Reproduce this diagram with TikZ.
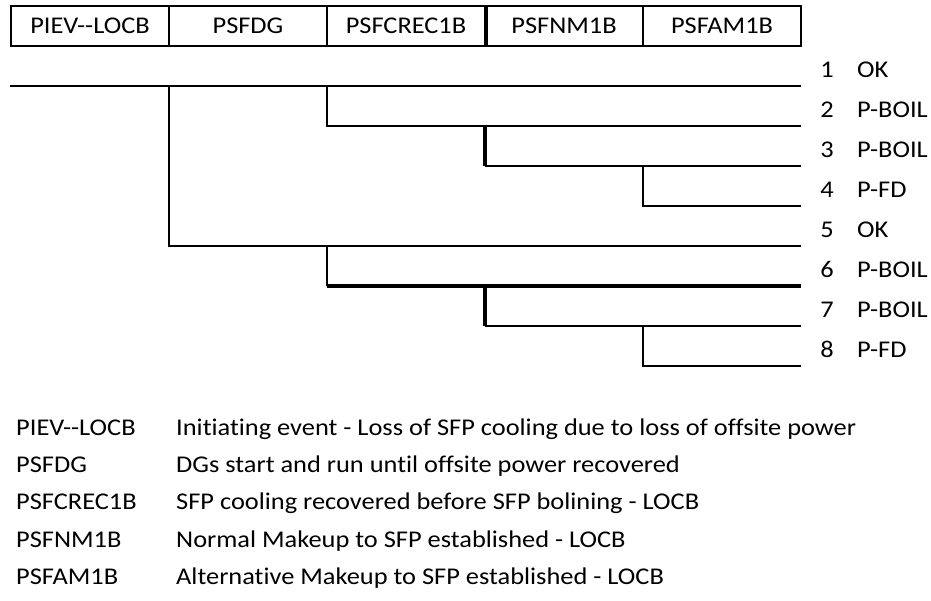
\documentclass[tikz,border=0pt]{standalone}
\usepackage{fontspec}
\setmainfont{Carlito}[Ligatures={NoCommon}, FakeStretch=1.1]
\begin{document}
\begin{tikzpicture}[x=1pt,y=-1pt,
  every node/.style={font=\fontsize{24}{28}\selectfont, text=black, inner sep=0pt, text height=15.5pt, text depth=0pt},
  hdr/.style={draw, line width=1.6pt, minimum width=158pt, minimum height=40pt},
  br/.style={line width=1.6pt},
  thk/.style={line width=3.4pt},
  num/.style={anchor=center},
  lbl/.style={anchor=west},
  leg/.style={anchor=west}]
\useasboundingbox (0,0) rectangle (931,600);
% header
\node[hdr] (h1) at (90,26) {PIEV-\kern0pt-LOCB};
\node[hdr] (h2) at (248,26) {PSFDG};
\node[hdr] (h3) at (406,26) {PSFCREC1B};
\node[hdr] (h4) at (564,26) {PSFNM1B};
\node[hdr] (h5) at (722,26) {PSFAM1B};
\draw[thk] (h3.north east) -- (h3.south east);
% branch points
\coordinate (s) at (10,86);
\coordinate (a1) at (169,86);
\coordinate (a2) at (169,246);
\coordinate (b1) at (327,86);
\coordinate (b2) at (327,126);
\coordinate (b3) at (327,246);
\coordinate (b4) at (327,286);
\coordinate (c1) at (485,126);
\coordinate (c2) at (485,166);
\coordinate (c3) at (485,286);
\coordinate (c4) at (485,326);
\coordinate (d1) at (643,166);
\coordinate (d2) at (643,206);
\coordinate (d3) at (643,326);
\coordinate (d4) at (643,366);
\coordinate (e1) at (801,86);
\coordinate (e2) at (801,126);
\coordinate (e3) at (801,166);
\coordinate (e4) at (801,206);
\coordinate (e5) at (801,246);
\coordinate (e6) at (801,286);
\coordinate (e7) at (801,326);
\coordinate (e8) at (801,366);
% tree
\draw[br] (s) -- (e1);
\draw[br] (a1) -- (a2) -- (e5);
\draw[br] (b1) -- (b2) -- (e2);
\draw[br] (b3) -- (b4);
\draw[thk] (b4) -- (e6);
\draw[thk] (c1) -- (c2);
\draw[br] (c2) -- (e3);
\draw[thk] (c3) -- (c4);
\draw[br] (c4) -- (e7);
\draw[br] (d1) -- (d2) -- (e4);
\draw[br] (d3) -- (d4) -- (e8);
% outcomes
\node[num] (n1) at (827,70) {1}; \node[lbl] (o1) at (857,70) {OK};
\node[num] (n2) at (827,110) {2}; \node[lbl] (o2) at (857,110) {P-BOIL};
\node[num] (n3) at (827,150) {3}; \node[lbl] (o3) at (857,150) {P-BOIL};
\node[num] (n4) at (827,190) {4}; \node[lbl] (o4) at (857,190) {P-FD};
\node[num] (n5) at (827,230) {5}; \node[lbl] (o5) at (857,230) {OK};
\node[num] (n6) at (827,270) {6}; \node[lbl] (o6) at (857,270) {P-BOIL};
\node[num] (n7) at (827,310) {7}; \node[lbl] (o7) at (857,310) {P-BOIL};
\node[num] (n8) at (827,350) {8}; \node[lbl] (o8) at (857,350) {P-FD};
% legend
\node[leg] (l1) at (16,428) {PIEV-\kern0pt-LOCB};
\node[leg] (d1t) at (176,428) {Initiating event - Loss of SFP cooling due to loss of offsite power};
\node[leg] (l2) at (16,465) {PSFDG};
\node[leg] (d2t) at (176,465) {DGs start and run until offsite power recovered};
\node[leg] (l3) at (16,502) {PSFCREC1B};
\node[leg] (d3t) at (176,502) {SFP cooling recovered before SFP bolining - LOCB};
\node[leg] (l4) at (16,540) {PSFNM1B};
\node[leg] (d4t) at (176,540) {Normal Makeup to SFP established - LOCB};
\node[leg] (l5) at (16,577) {PSFAM1B};
\node[leg] (d5t) at (176,577) {Alternative Makeup to SFP established - LOCB};
\end{tikzpicture}
\end{document}
